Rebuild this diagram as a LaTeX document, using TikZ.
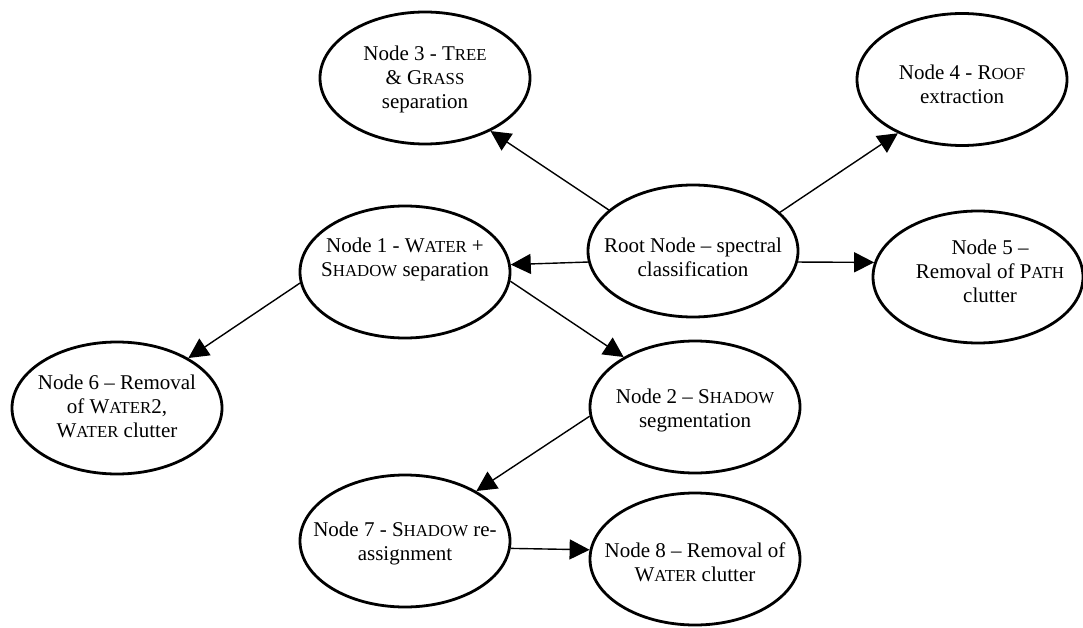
\documentclass[tikz,border=0pt]{standalone}
\usepackage{fontspec}
\setmainfont{Liberation Serif}
\usetikzlibrary{shapes.geometric,arrows.meta}
\newcommand\SC[2]{#1{\fontsize{16.8}{24}\selectfont #2}}
\begin{document}
\begin{tikzpicture}[x=1pt,y=-1pt,
  ell/.style={draw, ellipse, line width=2.8pt, minimum width=210pt, minimum height=132pt, inner sep=0pt},
  lbl/.style={align=center, inner sep=0pt, font=\fontsize{21}{24}\selectfont},
  conn/.style={line width=1.4pt, -{Triangle[length=20pt,width=20pt]}}]
\useasboundingbox (0,0) rectangle (1083,628);
% ellipses
\node[ell] (n3) at (425,78) {};
\node[ell] (n4) at (962,79.5) {};
\node[ell] (root) at (693,251) {};
\node[ell] (n1) at (405,272) {};
\node[ell] (n5) at (978,277) {};
\node[ell] (n6) at (117,408) {};
\node[ell] (n2) at (695,407) {};
\node[ell] (n7) at (405,541) {};
\node[ell] (n8) at (695,559) {};
% texts
\node[lbl] (t3) at (425,79) {Node 3 - \SC{T}{REE}\\ \& \SC{G}{RASS}\\ separation};
\node[lbl] (t4) at (962,84) {Node 4 - \SC{R}{OOF}\\ extraction};
\node[lbl] (troot) at (693,257) {Root Node -- spectral\\ classification};
\node[lbl] (t1) at (405,259) {Node 1 - \SC{W}{ATER} +\\ \SC{S}{HADOW} separation};
\node[lbl] (t5) at (990,271) {Node 5 --\\ Removal of \SC{P}{ATH}\\ clutter};
\node[lbl] (t6) at (117,406) {Node 6 -- Removal\\ of \SC{W}{ATER}2,\\ \SC{W}{ATER} clutter};
\node[lbl] (t2) at (695,410) {Node 2 -- \SC{S}{HADOW}\\ segmentation};
\node[lbl] (t7) at (405,543) {Node 7 - \SC{S}{HADOW} re-\\ assignment};
\node[lbl] (t8) at (695,562) {Node 8 -- Removal of\\ \SC{W}{ATER} clutter};
% connectors
\draw[conn] (root.154.3) -- (n3.-39);
\draw[conn] (root.24.1) -- (n4.220.2);
\draw[conn] (root.186.6) -- (n1.4.9);
\draw[conn] (root.-6.6) -- (n5.172.2);
\draw[conn] (n1.186) -- (n6.35.3);
\draw[conn] (n1.-5.9) -- (n2.145);
\draw[conn] (n2.185.3) -- (n7.35.3);
\draw[conn] (n7.-4.9) -- (n8.175.1);
\end{tikzpicture}
\end{document}
